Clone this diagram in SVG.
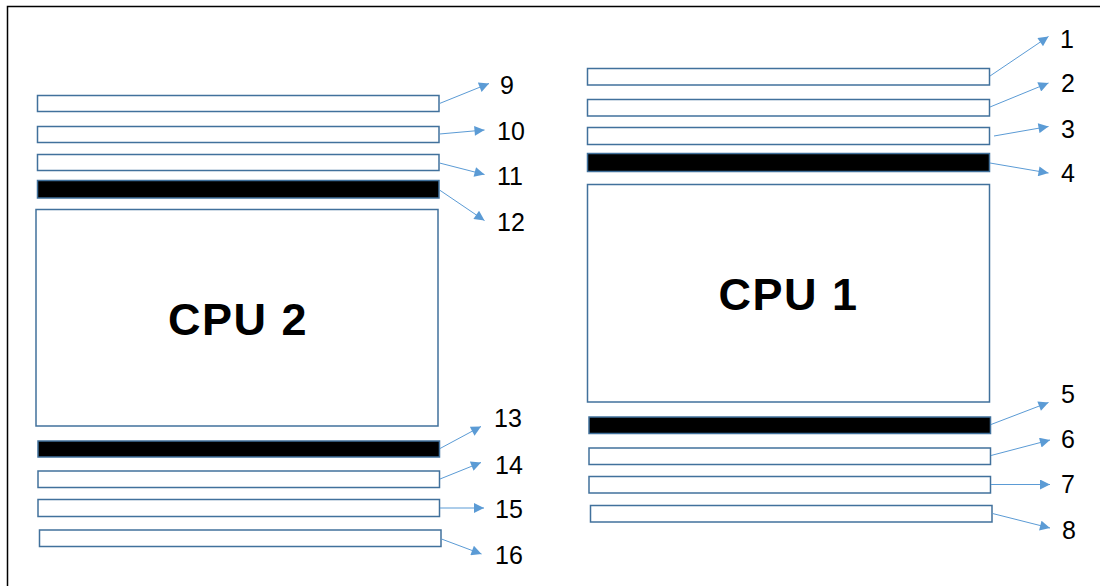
<svg xmlns="http://www.w3.org/2000/svg" width="1100" height="586" viewBox="0 0 1100 586">
<style>
.stick{fill:#fff;stroke:#41719C;stroke-width:1.5}
.dark{fill:#000;stroke:#41719C;stroke-width:1.5}
.cpu{fill:#fff;stroke:#41719C;stroke-width:1.5}
.lbl{font-family:"Liberation Sans",Arial,sans-serif;font-size:25px;fill:#000}
.cpul{font-family:"Liberation Sans",Arial,sans-serif;font-size:45px;font-weight:bold;fill:#000;text-anchor:middle;letter-spacing:1.5px}
.conn line{stroke:#5B9BD5;stroke-width:1;marker-end:url(#ah)}
</style>
<defs>
<marker id="ah" viewBox="0 0 10 10" refX="10" refY="5" markerWidth="13" markerHeight="10" markerUnits="userSpaceOnUse" orient="auto">
<path d="M0,0 L10,5 L0,10 Z" fill="#5B9BD5"/>
</marker>
</defs>
<rect width="1100" height="586" fill="#fff"/>
<path d="M7.5,586 V6.5 H1100" fill="none" stroke="#000" stroke-width="1.5"/>

<g id="cpu2">
<rect class="cpu" x="36" y="209.5" width="402" height="216.5"/>
<text class="cpul" x="238" y="335">CPU 2</text>
</g>
<g id="cpu1">
<rect class="cpu" x="587.5" y="184.5" width="402" height="217.5"/>
<text class="cpul" x="788.5" y="310">CPU 1</text>
</g>

<g id="dimm9"><rect class="stick" x="37.5" y="95.5" width="401.5" height="16"/><text class="lbl" x="500" y="94">9</text></g>
<g id="dimm10"><rect class="stick" x="37.5" y="126.5" width="401.5" height="16"/><text class="lbl" x="497" y="140">10</text></g>
<g id="dimm11"><rect class="stick" x="37.5" y="154.5" width="401.5" height="16"/><text class="lbl" x="497" y="185">11</text></g>
<g id="dimm12"><rect class="dark" x="37.5" y="180.5" width="401.5" height="17.5"/><text class="lbl" x="497" y="231">12</text></g>
<g id="dimm13"><rect class="dark" x="38" y="441" width="401.5" height="16"/><text class="lbl" x="494" y="427">13</text></g>
<g id="dimm14"><rect class="stick" x="38" y="471" width="401.5" height="16.5"/><text class="lbl" x="495" y="474">14</text></g>
<g id="dimm15"><rect class="stick" x="38" y="499.5" width="401.5" height="17"/><text class="lbl" x="495" y="518">15</text></g>
<g id="dimm16"><rect class="stick" x="39.5" y="530" width="401.5" height="16.5"/><text class="lbl" x="495" y="564">16</text></g>

<g id="dimm1"><rect class="stick" x="587.5" y="68.5" width="402" height="16.5"/><text class="lbl" x="1060" y="48">1</text></g>
<g id="dimm2"><rect class="stick" x="587.5" y="99.5" width="402" height="16.5"/><text class="lbl" x="1061" y="92">2</text></g>
<g id="dimm3"><rect class="stick" x="587.5" y="127.5" width="402" height="17"/><text class="lbl" x="1061" y="138">3</text></g>
<g id="dimm4"><rect class="dark" x="587.5" y="153.5" width="402" height="18"/><text class="lbl" x="1061" y="182">4</text></g>
<g id="dimm5"><rect class="dark" x="589" y="417" width="401.5" height="16.5"/><text class="lbl" x="1061" y="403">5</text></g>
<g id="dimm6"><rect class="stick" x="589" y="448" width="401.5" height="16.5"/><text class="lbl" x="1061" y="448">6</text></g>
<g id="dimm7"><rect class="stick" x="589" y="476.5" width="401.5" height="16.5"/><text class="lbl" x="1061" y="493">7</text></g>
<g id="dimm8"><rect class="stick" x="590.5" y="505.5" width="401.5" height="16.5"/><text class="lbl" x="1062" y="539">8</text></g>

<g id="connectors" class="conn">
<line x1="439.5" y1="103.5" x2="489" y2="83.5"/>
<line x1="439.5" y1="134" x2="484.5" y2="130"/>
<line x1="439.5" y1="163" x2="484.5" y2="174.5"/>
<line x1="439.5" y1="190" x2="484.5" y2="220.5"/>
<line x1="440" y1="448.5" x2="481" y2="426.5"/>
<line x1="440" y1="479" x2="481" y2="462.5"/>
<line x1="440" y1="508" x2="484" y2="508"/>
<line x1="441.5" y1="539" x2="481.5" y2="554"/>
<line x1="990" y1="76" x2="1048.5" y2="36.5"/>
<line x1="990" y1="107" x2="1048.5" y2="83"/>
<line x1="994" y1="136" x2="1048.5" y2="126.5"/>
<line x1="990" y1="163" x2="1048.5" y2="173"/>
<line x1="991" y1="424.5" x2="1048.5" y2="402.5"/>
<line x1="991" y1="455.5" x2="1050" y2="440"/>
<line x1="991" y1="484.5" x2="1050" y2="484.5"/>
<line x1="992.5" y1="513.5" x2="1050" y2="528"/>
</g>
</svg>
